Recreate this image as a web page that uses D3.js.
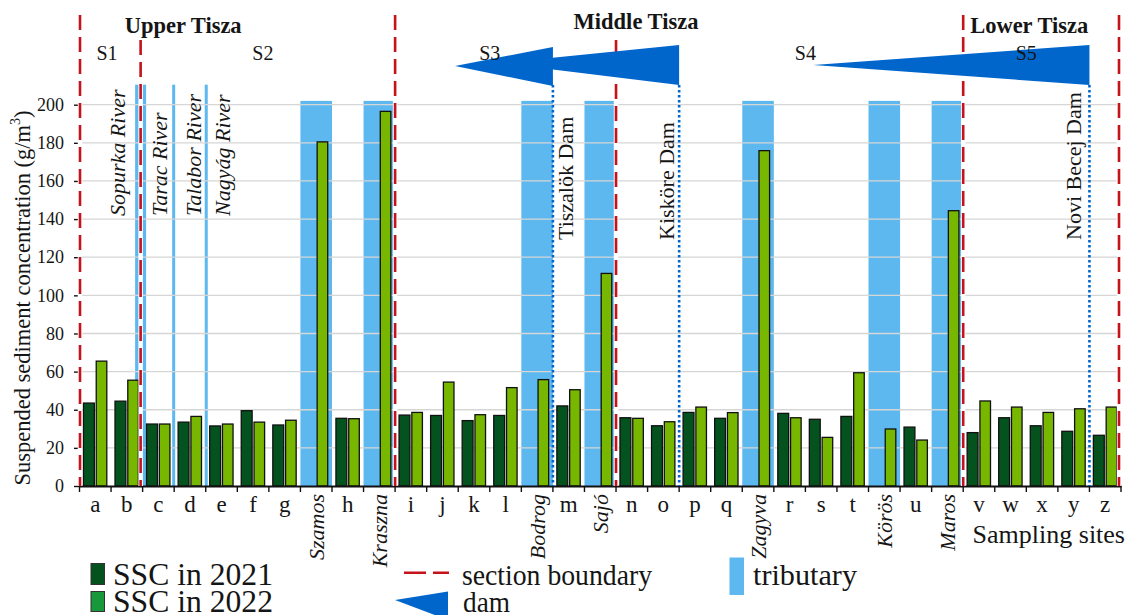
<!DOCTYPE html>
<html><head><meta charset="utf-8">
<script src="https://cdn.jsdelivr.net/npm/d3@7"></script>
<style>
body{margin:0;background:#fff}
svg{display:block;background:#fff}
svg text{font-family:"Liberation Serif","Tinos","DejaVu Serif","Times New Roman",Times,serif !important;fill:#151515}
</style>
</head><body>
<svg id="c" width="1129" height="615" font-family="Liberation Serif, DejaVu Serif, serif"></svg>
<script>
// ---------------- data ----------------
const sites = ["a","b","c","d","e","f","g","Szamos","h","Kraszna","i","j","k","l","Bodrog","m","Sajó","n","o","p","q","Zagyva","r","s","t","Körös","u","Maros","v","w","x","y","z"];
const ssc2021 = [43.5,44.5,32.5,33.5,31.5,39.5,32,null,35.5,null,37.2,37,34.3,37,null,42,null,35.8,31.6,38.6,35.5,null,38.1,35,36.5,null,30.9,null,28,35.8,31.6,28.7,26.6];
const ssc2022 = [65.5,55.5,32.5,36.5,32.5,33.5,34.5,180.5,35.3,196.5,38.6,54.5,37.4,51.6,55.8,50.5,111.5,35.5,33.7,41.4,38.5,175.9,35.8,25.5,59.4,29.9,24.1,144.4,44.6,41.4,38.6,40.5,41.4];
const tributaries = ["Szamos","Kraszna","Bodrog","Sajó","Zagyva","Körös","Maros"];
const upperRivers = ["Sopurka River","Tarac River","Talabor River","Nagyág River"];
const upperRiverSites = ["b","c","d","e"];
const sectionNames = ["S1","S2","S3","S4","S5"];
const reachNames = ["Upper Tisza","Middle Tisza","Lower Tisza"];
const dams = ["Tiszalök Dam","Kisköre Dam","Novi Becej Dam"];
const damSites = ["m","p","z"];
const yTicks = [0,20,40,60,80,100,120,140,160,180,200];
const legendLabels = ["SSC in 2021","SSC in 2022","section boundary","dam","tributary"];
const xTitle = "Sampling sites";
const yTitle = "Suspended sediment concentration (g/m";

// ---------------- drawing ----------------
const FONT = "Liberation Serif, Tinos, DejaVu Serif, serif";
const C = {dark:"#04531f", light:"#78b700", leg2:"#17983a", trib:"#5cb8ef",
           dam:"#0066cc", red:"#c5121b", grid:"#d6d6d6"};
const svg = d3.select("#c");
const x = d3.scaleBand().domain(sites).range([79.5,1121]).padding(0);
const bw = x.bandwidth();
const y = d3.scaleLinear().domain([0,200]).range([486,104.7]);
const xEnd = x.range()[1];

// tributary bands
svg.append("g").selectAll("rect").data(tributaries).join("rect")
  .attr("x", d => x(d)).attr("width", bw)
  .attr("y", y(202)).attr("height", y(0) - y(202))
  .attr("fill", C.trib);

// upper-Tisza tributary markers
const rl = [{cx:x("c")-2, w:11},{cx:x("d")-0.5, w:3},{cx:x("e")+0.5, w:3}];
svg.append("g").selectAll("rect").data(rl).join("rect")
  .attr("x", d => d.cx - d.w/2).attr("width", d => d.w)
  .attr("y", y(210.5)).attr("height", y(0) - y(210.5))
  .attr("fill", C.trib);

// grid
svg.append("g").selectAll("line").data(yTicks.filter(t => t > 0)).join("line")
  .attr("x1", 80).attr("x2", xEnd)
  .attr("y1", d => y(d)).attr("y2", d => y(d))
  .attr("stroke", C.grid).attr("stroke-width", 1.3);

// bars
const idx = d3.range(sites.length);
svg.append("g").selectAll("rect").data(idx.filter(i => ssc2021[i] != null)).join("rect")
  .attr("x", i => x(sites[i]) + bw*0.125).attr("width", bw*0.345)
  .attr("y", i => y(ssc2021[i])).attr("height", i => y(0) - y(ssc2021[i]))
  .attr("fill", C.dark).attr("stroke", "#111").attr("stroke-width", 1.3);
svg.append("g").selectAll("rect").data(idx.filter(i => ssc2022[i] != null)).join("rect")
  .attr("x", i => x(sites[i]) + bw*0.53).attr("width", bw*0.335)
  .attr("y", i => y(ssc2022[i])).attr("height", i => y(0) - y(ssc2022[i]))
  .attr("fill", C.light).attr("stroke", "#111").attr("stroke-width", 1.3);

// left axis
const ya = svg.append("g").attr("transform", "translate(80,0)")
  .call(d3.axisLeft(y).tickValues(yTicks).tickSize(6).tickSizeOuter(0).tickPadding(10));
ya.attr("font-family", FONT);
ya.select(".domain").attr("stroke", "#111").attr("stroke-width", 1.6);
ya.selectAll(".tick line").attr("stroke", "#111").attr("stroke-width", 1.4);
ya.selectAll("text").attr("font-size", 18).attr("fill", "#151515");

// bottom axis
const xa = svg.append("g").attr("transform", "translate(0,486)")
  .call(d3.axisBottom(x).tickSize(0).tickSizeOuter(0)
        .tickFormat(d => tributaries.includes(d) ? "" : d));
xa.attr("font-family", FONT);
xa.select(".domain").attr("stroke", "#111").attr("stroke-width", 1.8);
xa.selectAll("text").attr("y", 26).attr("dy", 0)
  .attr("font-size", 23).attr("fill", "#151515");
svg.append("g").selectAll("line").data(sites.map(d => x(d)).concat([xEnd])).join("line")
  .attr("x1", d => d).attr("x2", d => d).attr("y1", 486).attr("y2", 492)
  .attr("stroke", "#111").attr("stroke-width", 1.4);

// tributary labels (rotated, italic)
svg.append("g").selectAll("text").data(tributaries).join("text")
  .attr("transform", d => `translate(${x(d)+bw/2},494) rotate(-90)`)
  .attr("dy", "0.35em").attr("text-anchor", "end")
  .attr("font-style", "italic").attr("font-size", 22).text(d => d);

// section boundaries
const secX = [x("a")+0.5, x("c")-2, x("i"), x("n"), x("v"), xEnd-2];
const secTop = [15, 40, 15, 40, 15, 15];
const sb = svg.append("g");
secX.forEach((sx, i) => {
  sb.append("line").attr("x1", sx).attr("x2", sx).attr("y1", secTop[i]).attr("y2", 486)
    .attr("stroke", "#fff").attr("stroke-width", 4.5);
  sb.append("line").attr("x1", sx).attr("x2", sx).attr("y1", secTop[i]).attr("y2", 486)
    .attr("stroke", C.red).attr("stroke-width", 2.6).attr("stroke-dasharray", "15,7");
});

// dams: dotted lines and wedges
const damReach = [3.1, 5.65, 8.75];
const damTop = [47, 45, 45], damBot = [86, 85, 85], damTipY = [66, 63, 65];
const dg = svg.append("g");
damSites.forEach(s => {
  dg.append("line").attr("x1", x(s)).attr("x2", x(s)).attr("y1", 85).attr("y2", 486)
    .attr("stroke", C.dam).attr("stroke-width", 2.6).attr("stroke-dasharray", "2.6,2.4");
});
[1, 0, 2].forEach(i => {
  const xb = x(damSites[i]);
  const tip = xb - damReach[i]*bw;
  dg.append("path")
    .attr("d", `M${tip},${damTipY[i]}L${xb},${damTop[i]}L${xb},${damBot[i]}Z`)
    .attr("fill", C.dam);
});

// dam labels
const damLabelOff = [12, -12.5, -16.5];
svg.append("g").selectAll("text").data(dams).join("text")
  .attr("transform", (d, i) => `translate(${x(damSites[i]) + damLabelOff[i]},240) rotate(-90)`)
  .attr("dy", "0.35em").attr("text-anchor", "start").attr("font-size", 22).text(d => d);

// upper river labels
const urOff = [-10, 0.5, 3, 0.5];
svg.append("g").selectAll("text").data(upperRivers).join("text")
  .attr("transform", (d, i) => `translate(${x(upperRiverSites[i]) + bw/2 + urOff[i]},216) rotate(-90)`)
  .attr("dy", "0.35em").attr("text-anchor", "start")
  .attr("font-style", "italic").attr("font-size", 22).text(d => d);

// reach names
const reachX = [x("d") + 9, x("n") + 20, x("v") + 66];
const reachY = [33, 29, 33];
svg.append("g").selectAll("text").data(reachNames).join("text")
  .attr("x", (d, i) => reachX[i]).attr("y", (d, i) => reachY[i])
  .attr("text-anchor", "middle").attr("font-weight", "bold").attr("font-size", 22.5)
  .text(d => d);

// section names
const secLabX = [x("b") - 4, x("g") - 6, x("l"), x("s"), x("x")];
svg.append("g").selectAll("text").data(sectionNames).join("text")
  .attr("x", (d, i) => secLabX[i]).attr("y", 60)
  .attr("text-anchor", "middle").attr("font-size", 20).text(d => d);

// axis titles
svg.append("text").attr("x", 1125).attr("y", 543).attr("text-anchor", "end")
  .attr("font-size", 26).text(xTitle);
const yt = svg.append("text").attr("transform", "translate(22,298) rotate(-90)")
  .attr("text-anchor", "middle").attr("dy", "0.35em").attr("font-size", 22.5);
yt.append("tspan").text(yTitle);
yt.append("tspan").attr("font-size", 14).attr("dy", "-0.7em").text("3");
yt.append("tspan").attr("dy", "0.45em").text(")");

// legend
const lg = svg.append("g");
lg.append("rect").attr("x", 91).attr("y", 563.5).attr("width", 13.5).attr("height", 21)
  .attr("fill", C.dark).attr("stroke", "#333").attr("stroke-width", 1);
lg.append("rect").attr("x", 91).attr("y", 591.5).attr("width", 13.5).attr("height", 20)
  .attr("fill", C.leg2).attr("stroke", "#333").attr("stroke-width", 1);
lg.append("text").attr("x", 113).attr("y", 585).attr("font-size", 31)
  .attr("textLength", 160).attr("lengthAdjust", "spacingAndGlyphs").text(legendLabels[0]);
lg.append("text").attr("x", 113).attr("y", 612).attr("font-size", 31)
  .attr("textLength", 160).attr("lengthAdjust", "spacingAndGlyphs").text(legendLabels[1]);
lg.append("line").attr("x1", 404).attr("x2", 449).attr("y1", 572.7).attr("y2", 572.7)
  .attr("stroke", C.red).attr("stroke-width", 2.6).attr("stroke-dasharray", "22,7");
lg.append("text").attr("x", 462).attr("y", 585).attr("font-size", 29)
  .attr("textLength", 190).attr("lengthAdjust", "spacingAndGlyphs").text(legendLabels[2]);
lg.append("path").attr("d", "M395,600L448,591.5L448,620Z").attr("fill", C.dam);
lg.append("text").attr("x", 463).attr("y", 612).attr("font-size", 29)
  .attr("textLength", 47).attr("lengthAdjust", "spacingAndGlyphs").text(legendLabels[3]);
lg.append("rect").attr("x", 729.5).attr("y", 557.5).attr("width", 14.5).attr("height", 37.5)
  .attr("fill", C.trib);
lg.append("text").attr("x", 753).attr("y", 585).attr("font-size", 29)
  .attr("textLength", 104).attr("lengthAdjust", "spacingAndGlyphs").text(legendLabels[4]);
</script>
</body></html>
